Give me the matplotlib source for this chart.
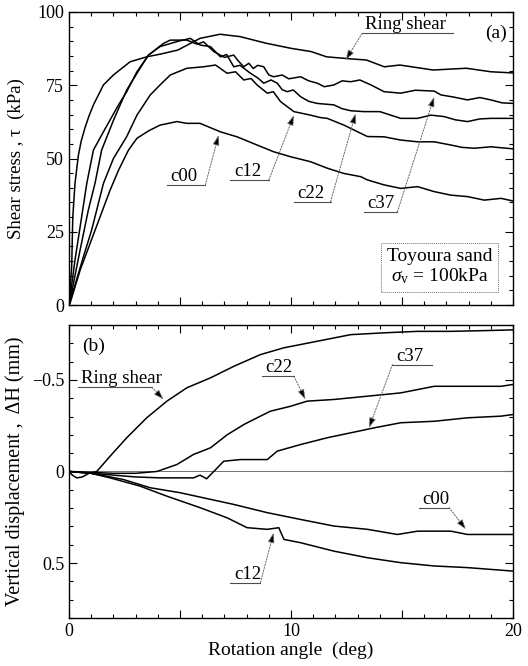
import numpy as np
import matplotlib
matplotlib.use("Agg")
import matplotlib.pyplot as plt
from matplotlib.ticker import MultipleLocator, FixedLocator

plt.rcParams['font.family'] = ['Liberation Serif', 'DejaVu Serif']
plt.rcParams['mathtext.fontset'] = 'custom'
plt.rcParams['mathtext.rm'] = 'Liberation Serif'
plt.rcParams['mathtext.it'] = 'Liberation Serif:italic'

# ---- (a) shear stress vs rotation angle ----
ring_a_deg = [0, 0.12, 0.17, 0.27, 0.42, 0.55, 0.72, 0.9, 1.1, 1.55, 2.0, 2.75, 3.5, 4.1, 4.9, 5.9,
              6.8, 7.7, 8.9, 10.0, 10.9, 11.6, 12.7, 13.4, 14.2, 14.9, 16.4, 17.9, 19.0, 20.0]
ring_a_tau = [0, 13, 30, 41.5, 51.0, 56.0, 60.5, 64.5, 68.3, 75.1, 78.5, 83.0, 84.7, 85.6, 87.0, 91.0,
              92.4, 91.6, 89.3, 87.6, 86.5, 84.7, 84.0, 83.6, 81.3, 81.9, 80.2, 80.8, 79.6, 79.2]

c37_a_deg = [0, 0.27, 0.57, 0.8, 1.1, 1.55, 2.23, 2.6, 3.06, 3.58, 4.26, 4.56, 5.31, 5.77, 6.06, 6.52,
             7.0, 7.42, 7.6, 7.87, 8.1, 8.3, 8.5, 8.77, 9.0, 9.22, 9.6, 9.9, 10.43, 10.8, 11.18, 11.5,
             11.93, 12.3, 12.69, 13.1, 13.6, 14.19, 14.94, 15.6, 16.45, 16.75, 17.3, 17.95, 18.5,
             19.0, 19.5, 20.0]
c37_a_tau = [0, 15.4, 30.1, 41.5, 52.9, 59.1, 68.3, 72.8, 79.6, 85.3, 89.3, 90.4, 90.4, 89.0, 89.8, 86.5,
             84.5, 85.3, 83.5, 81.3, 82.5, 80.7, 81.8, 81.3, 78.5, 77.9, 78.5, 77.2, 77.9, 76.5, 75.7, 74.5,
             75.1, 76.5, 76.2, 76.8, 75.1, 72.8, 72.3, 73.3, 73.0, 71.7, 71.0, 70.0, 70.8,
             70.0, 69.0, 68.8]

c22_a_deg = [0, 0.2, 0.5, 0.87, 1.17, 1.47, 2.0, 2.6, 3.2, 3.58, 4.1, 4.86, 5.46, 5.91, 6.37, 6.82,
             7.1, 7.42, 7.7, 8.17, 8.5, 8.77, 9.1, 9.38, 9.6, 9.83, 10.1, 10.43, 10.8, 11.18, 11.93, 12.3,
             12.69, 13.29, 14.0, 14.94, 15.7, 16.3, 16.9, 17.4, 17.95, 18.5, 19.0, 20.0]
c22_a_tau = [0, 7.4, 18.8, 32.4, 41.5, 52.9, 63.0, 73.4, 80.8, 85.3, 88.2, 89.9, 91.0, 88.7, 88.2, 84.7,
             85.5, 81.3, 81.8, 79.1, 77.5, 75.7, 76.8, 75.7, 73.5, 72.8, 73.4, 71.1, 69.5, 68.8, 68.3, 67.0,
             66.3, 66.0, 66.0, 63.7, 63.7, 64.8, 64.3, 63.2, 62.6, 63.5, 63.7, 63.7]

c12_a_deg = [0, 0.2, 0.65, 1.02, 1.55, 2.0, 2.6, 3.06, 3.66, 4.1, 4.56, 5.31, 6.06, 6.6, 7.12, 7.5,
             7.87, 8.2, 8.47, 8.93, 9.2, 9.53, 10.13, 10.88, 11.3, 11.63, 12.38, 13.14, 13.44, 14.19,
             14.94, 15.7, 16.45, 17.2, 17.7, 18.25, 19.0, 20.0]
c12_a_tau = [0, 5.1, 16.5, 25.6, 41.5, 50.0, 57.5, 64.8, 71.7, 75.1, 78.5, 80.8, 81.3, 81.9, 79.1, 79.6,
             76.8, 77.3, 75.1, 72.3, 72.8, 69.4, 66.0, 64.8, 64.0, 63.7, 61.4, 58.6, 57.5, 57.4,
             56.3, 55.7, 55.7, 54.6, 53.8, 53.5, 54.0, 53.3]

c00_a_deg = [0, 0.05, 0.5, 0.95, 1.4, 1.85, 2.23, 2.68, 3.06, 3.6, 4.1, 4.86, 5.3, 5.9, 6.82, 7.57,
             8.47, 9.22, 9.98, 10.88, 11.63, 12.38, 13.14, 13.44, 14.19, 14.94, 15.7, 16.45, 17.2, 17.95,
             18.7, 19.46, 20.0]
c00_a_tau = [0, 0.7, 11.9, 21.0, 30.1, 39.2, 46.0, 52.9, 56.9, 59.5, 61.4, 62.6, 62.0, 62.0, 59.1, 57.4,
             54.6, 52.3, 50.6, 48.9, 46.7, 44.9, 43.8, 42.7, 41.0, 39.8, 40.4, 38.7, 37.5, 37.0,
             35.8, 36.4, 35.5]

# ---- (b) vertical displacement vs rotation angle ----
ring_b_deg = [0, 0.15, 0.35, 0.6, 0.9, 1.25, 1.9, 2.6, 3.5, 4.41, 5.31, 6.37, 7.42, 8.62, 9.67,
              11.18, 12.69, 14.19, 15.7, 17.2, 18.7, 20.0]
ring_b_dh = [0, 0.02, 0.035, 0.03, 0.01, 0.0, -0.09, -0.184, -0.293, -0.384, -0.457, -0.511, -0.574,
             -0.638, -0.675, -0.711, -0.747, -0.757, -0.765, -0.765, -0.769, -0.773]

c22_b_deg = [0, 1.0, 2.0, 3.0, 3.96, 4.86, 5.61, 6.37, 7.12, 7.87, 8.62, 9.07, 9.98, 10.73, 11.93,
             13.44, 14.94, 16.45, 17.95, 19.46, 20.0]
c22_b_dh = [0, 0.005, 0.01, 0.01, 0.0, -0.038, -0.093, -0.129, -0.2, -0.256, -0.302, -0.329, -0.356,
            -0.384, -0.393, -0.411, -0.429, -0.465, -0.465, -0.465, -0.475]

c37_b_deg = [0, 1.0, 2.0, 3.0, 4.1, 5.0, 5.61, 5.9, 6.2, 6.52, 6.97, 7.72, 8.62, 8.93, 9.38, 10.43,
             11.63, 12.69, 13.74, 14.94, 16.45, 17.95, 19.46, 20.0]
c37_b_dh = [0, 0.01, 0.02, 0.03, 0.035, 0.035, 0.035, 0.02, 0.04, 0.0, -0.056, -0.065, -0.065, -0.065,
            -0.111, -0.147, -0.184, -0.211, -0.238, -0.266, -0.274, -0.293, -0.302, -0.311]

c00_b_deg = [0, 1.0, 2.45, 3.66, 5.0, 6.06, 7.42, 8.93, 10.43, 11.93, 13.44, 14.79, 15.7, 17.2, 17.95, 20.0]
c00_b_dh = [0, 0.01, 0.044, 0.089, 0.116, 0.144, 0.18, 0.225, 0.262, 0.298, 0.316, 0.344, 0.326, 0.326,
            0.344, 0.344]

c12_b_deg = [0, 1.0, 1.85, 3.2, 4.41, 5.91, 7.12, 8.02, 8.93, 9.45, 9.68, 10.43, 11.93, 13.44, 14.94,
             16.45, 17.95, 20.0]
c12_b_dh = [0, 0.01, 0.035, 0.08, 0.135, 0.198, 0.253, 0.307, 0.316, 0.307, 0.371, 0.389, 0.435, 0.471,
            0.498, 0.516, 0.525, 0.544]

# labels: (text, underline x0, underline x1, underline y, arrow tip x, tip y, leader from right end?)
labels_a = [("Ring shear", 13.2, 17.3, 92.7, 12.46, 83.6, False),
            ("c00", 4.41, 6.14, 41.0, 6.74, 58.0, True),
            ("c12", 7.27, 9.0, 42.7, 10.13, 64.8, True),
            ("c22", 10.13, 11.78, 35.3, 12.91, 65.4, True),
            ("c37", 13.29, 14.79, 31.8, 16.45, 71.1, True)]
labels_b = [("Ring shear", 0.4, 3.73, -0.46, 4.26, -0.393, True),
            ("c22", 8.7, 10.13, -0.52, 10.65, -0.393, True),
            ("c37", 14.57, 16.37, -0.584, 13.51, -0.238, False),
            ("c00", 15.77, 17.12, 0.198, 17.88, 0.316, True),
            ("c12", 7.27, 8.62, 0.607, 9.22, 0.334, True)]

fig = plt.figure(figsize=(5.28, 6.66), dpi=100)
ax1 = fig.add_axes([0.1307, 0.542, 0.841, 0.44])
ax2 = fig.add_axes([0.1307, 0.0721, 0.841, 0.44])

lw = 1.1
for d, v in [(ring_a_deg, ring_a_tau), (c37_a_deg, c37_a_tau), (c22_a_deg, c22_a_tau),
             (c12_a_deg, c12_a_tau), (c00_a_deg, c00_a_tau)]:
    ax1.plot(d, v, color='k', lw=lw)

ax2.axhline(0, color='0.45', lw=0.7)
for d, v in [(ring_b_deg, ring_b_dh), (c22_b_deg, c22_b_dh), (c37_b_deg, c37_b_dh),
             (c00_b_deg, c00_b_dh), (c12_b_deg, c12_b_dh)]:
    ax2.plot(d, v, color='k', lw=lw)


def put_label(ax, lab, fs):
    txt, x0, x1, y, tx, ty, right = lab
    ax.plot([x0, x1], [y, y], color='0.3', lw=0.8)
    ax.text(x0 + 0.15, y, txt, fontsize=fs, ha='left', va='bottom')
    sx = x1 if right else x0
    ax.annotate('', xy=(tx, ty), xytext=(sx, y),
                arrowprops=dict(arrowstyle='-|>,head_length=0.6,head_width=0.2', ls=(0, (1.5, 1.5)),
                                lw=0.7, ec='0.4', fc='k', shrinkA=0, shrinkB=0))


for lab in labels_a:
    put_label(ax1, lab, 13.5)
for lab in labels_b:
    put_label(ax2, lab, 13.5)

ax1.set_xlim(0, 20)
ax1.set_ylim(0, 100)
ax1.yaxis.set_major_locator(FixedLocator([0, 25, 50, 75, 100]))
ax1.yaxis.set_minor_locator(MultipleLocator(5))
ax1.set_xticklabels([])
ax1.set_ylabel("Shear stress , τ  (kPa)", fontsize=13.5)
ax1.yaxis.set_label_coords(-0.1, 0.5)
ax1.text(0.985, 0.955, "(a)", transform=ax1.transAxes, fontsize=14, ha='right', va='top')
ax1.text(0.835, 0.13, "Toyoura sand\n$\\sigma_{\\rm v}$ = 100kPa", transform=ax1.transAxes,
         fontsize=14, ha='center', va='center', linespacing=1.1,
         bbox=dict(boxstyle='square,pad=0.3', fc='white', ec='0.45', lw=0.7, ls=(0, (1, 1))))

ax2.set_xlim(0, 20)
ax2.set_ylim(0.8, -0.8)
ax2.yaxis.set_major_locator(FixedLocator([-0.5, 0, 0.5]))
ax2.yaxis.set_minor_locator(MultipleLocator(0.1))
ax2.set_yticklabels(["\u22120.5", "0", "0.5"])
ax2.set_ylabel("Vertical displacement ,  ΔH (mm)", fontsize=14.5)
ax2.yaxis.set_label_coords(-0.1, 0.5)
ax2.set_xlabel("Rotation angle  (deg)", fontsize=14, labelpad=1)
ax2.text(0.03, 0.955, "(b)", transform=ax2.transAxes, fontsize=14, ha='left', va='top')

for ax in (ax1, ax2):
    ax.xaxis.set_major_locator(MultipleLocator(5))
    ax.xaxis.set_minor_locator(MultipleLocator(1))
    ax.tick_params(which='both', direction='in', top=True, right=True, labelsize=13, width=0.8)
    ax.tick_params(which='major', length=6)
    ax.tick_params(which='minor', length=3)
    for s in ax.spines.values():
        s.set_linewidth(1.0)

ax2.set_xticks([0, 5, 10, 15, 20])
ax2.set_xticklabels(["0", "", "10", "", "20"])

fig.savefig("out.png", dpi=100)
